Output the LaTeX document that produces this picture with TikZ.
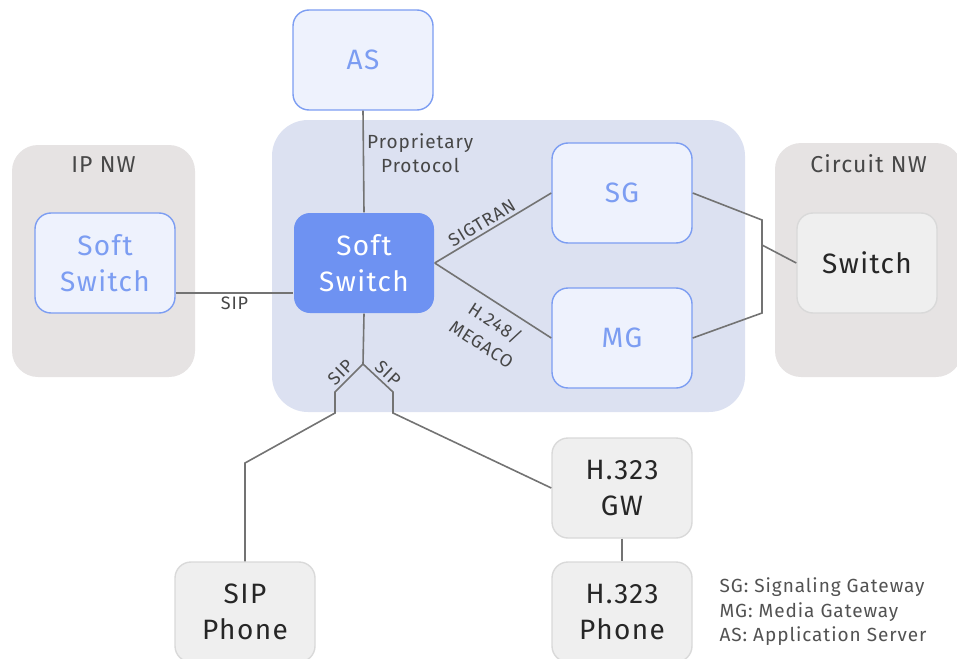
\documentclass[tikz,border=0pt]{standalone}
\usepackage{fontspec}
\setmainfont{Fira Sans}[LetterSpace=5]
\usepackage{xcolor}
\usepackage{tikz}
\definecolor{panelgrey}{HTML}{E6E3E3}
\definecolor{panelblue}{HTML}{DCE1F1}
\definecolor{boxblue}{HTML}{7C9DF2}
\definecolor{boxfill}{HTML}{EEF2FD}
\definecolor{corecolor}{HTML}{6E92F2}
\definecolor{greyfill}{HTML}{EFEFEF}
\definecolor{greyrule}{HTML}{D9D9D9}
\colorlet{linkcolor}{black!55}
\colorlet{textcolor}{black!72}
\tikzset{
	panel/.style={
		,rectangle
		,rounded corners	= 26pt
		,fill				= panelgrey
		,inner sep			= 0pt
	}
	,box/.style		 = {rectangle, rounded corners=16pt, minimum width=140pt, minimum height=100pt, align=center, font=\fontsize{28}{36}\selectfont, line width=1.4pt}
	,bluebox/.style	 = {box, draw=boxblue, fill=boxfill, text=boxblue}
	,corebox/.style	 = {box, fill=corecolor, text=white}
	,greybox/.style	 = {box, draw=greyrule, fill=greyfill, text=black!85}
	,link/.style	 = {draw=linkcolor, line width=1.6pt}
	,lbl/.style		 = {text=textcolor, font=\fontsize{18}{22}\selectfont, inner sep=3pt}
	,title/.style	 = {text=textcolor, font=\fontsize{23}{26}\selectfont}
}

\begin{document}
\begin{tikzpicture}[x=1pt, y=-1pt]
	\useasboundingbox (0,0) rectangle (957,658);

	% the panels
	\node (ipnw) [panel, minimum width=183pt, minimum height=232pt] at (103.5,261) {};
	\node (core) [panel, fill=panelblue, rounded corners=36pt, minimum width=473pt, minimum height=292pt] at (508.5,266) {};
	\node (cnw) [panel, minimum width=187pt, minimum height=234pt] at (868.5,260) {};
	\node (ipnwtitle) [title, below] at ([yshift=-8pt]ipnw.north) {IP NW};
	\node (cnwtitle) [title, below] at ([yshift=-8pt]cnw.north) {Circuit NW};

	% the joints
	\coordinate (jsg) at (762,220);
	\coordinate (jmg) at (762,313);
	\coordinate (jsw) at (762,245);
	\coordinate (fork) at (363,364);
	\coordinate (lf1) at (335,392);
	\coordinate (lf2) at (335,413);
	\coordinate (lf3) at (245,463);
	\coordinate (rf1) at (393,392);
	\coordinate (rf2) at (393,413);

	% the boxes
	\node (as) [bluebox] at (363,60) {AS};
	\node (leftsw) [bluebox] at (105,263) {Soft\\Switch};
	\node (softsw) [corebox] at (364,263) {Soft\\Switch};
	\node (sg) [bluebox] at (622,193) {SG};
	\node (mg) [bluebox] at (622,338) {MG};
	\node (sw) [greybox] at (867,263) {Switch};
	\node (gw) [greybox] at (622,488) {H.323\\GW};
	\node (h323ph) [greybox] at (622,612) {H.323\\Phone};
	\node (sipph) [greybox] at (245,612) {SIP\\Phone};

	% the links
	\begin{scope}[link]
		\draw (as.south) -- node[lbl, right, pos=0.42, align=center, font=\fontsize{19}{24}\selectfont] {Proprietary\\Protocol} (softsw.north);
		\draw (leftsw.east |- 0,293) -- node[lbl, below] {SIP} (softsw.west |- 0,293);
		\draw (softsw.east) -- node[lbl, sloped, above, pos=0.45] {SIGTRAN} (sg.west);
		\draw (softsw.east) -- node[lbl, sloped, below=6pt, align=center, pos=0.6, font=\fontsize{18}{25}\selectfont] {H.248/\\MEGACO} (mg.west);

		\draw (sg.east) -- (jsg) -- (jmg) -- (mg.east);
		\draw (jsw) -- (sw.west);

		\draw (softsw.south) -- (fork);
		\draw (fork) -- node[lbl, sloped, above, pos=0.55] {SIP} (lf1) -- (lf2) -- (lf3) -- (sipph.north);
		\draw (fork) -- node[lbl, sloped, above, pos=0.6] {SIP} (rf1) -- (rf2) -- (gw.west);
		\draw (gw.south) -- (h323ph.north);
	\end{scope}

	% the legend
	\node (legend) [anchor=west, align=left, text=black!68, font=\fontsize{19}{24.5}\selectfont] at (716,612) {SG: Signaling Gateway\\MG: Media Gateway\\AS: Application Server};
\end{tikzpicture}
\end{document}
